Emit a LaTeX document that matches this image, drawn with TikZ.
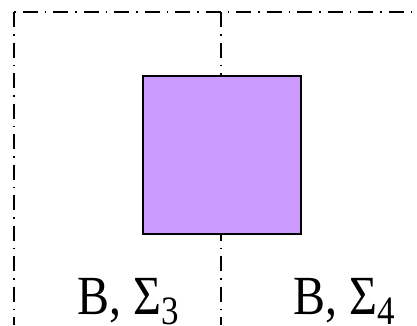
\documentclass[tikz,border=0pt]{standalone}
\usepackage{fontspec}
\setmainfont{Liberation Serif}
\newcommand\mysubtxt[1]{\raisebox{-9.5pt}{\fontsize{35}{40}\selectfont #1}}
\newcommand\mylbl[2]{\scalebox{1}[1.15]{\fontsize{48}{56}\selectfont B, Σ\mysubtxt{#2}}}
\begin{document}
\begin{tikzpicture}[x=1pt,y=-1pt,
  ddline/.style={line width=1.3pt, dash pattern=on 15pt off 7pt on 1.5pt off 7pt},
  sq/.style={draw=black, line width=2pt, fill={rgb,255:red,204;green,153;blue,255},
    minimum width=158pt, minimum height=158pt, inner sep=0pt, outer sep=0pt},
  lbl/.style={anchor=base, inner sep=0pt}]
\useasboundingbox (0,0) rectangle (417,325);
\coordinate (tl) at (14,12);
\coordinate (tr) at (417,12);
\coordinate (bl) at (14,325);
\coordinate (mt) at (221,12);
\coordinate (mb) at (221,325);
\draw[ddline] (tl) -- (bl);
\draw[ddline, dash phase=22pt] (tl) -- (tr);
\draw[ddline] (mt) -- (mb);
\node[sq] (box) at (222,155) {};
\node[lbl] (l3) at (128.5,314) {\mylbl{B}{3}};
\node[lbl] (l4) at (344,314) {\mylbl{B}{4}};
\end{tikzpicture}
\end{document}
